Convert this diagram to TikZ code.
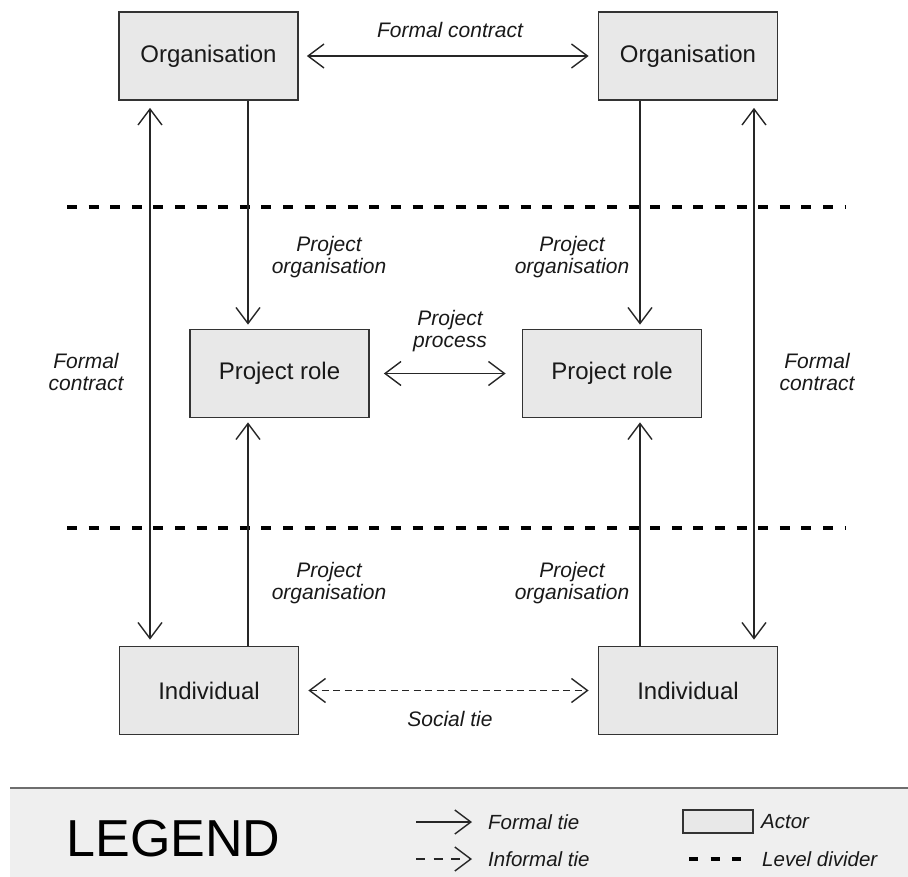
\documentclass[tikz,border=0pt]{standalone}
\usepackage{fontspec}
\setmainfont{Liberation Sans}
\usetikzlibrary{arrows.meta}

\definecolor{linegray}{HTML}{262626}
\definecolor{boxfill}{HTML}{E8E8E8}
\definecolor{boxline}{HTML}{333333}
\definecolor{legendfill}{HTML}{EFEFEF}
\definecolor{legendline}{HTML}{6E6E6E}

\tikzset{
  actor/.style={draw=boxline, line width=1.7pt, fill=boxfill,
    minimum width=179pt, minimum height=88pt, inner sep=0pt,
    font=\fontsize{24}{26}\selectfont, text=black!90},
  lbl/.style={font=\fontsize{21}{22}\selectfont\itshape, align=center,
    inner sep=0pt, text=black!90},
  legtext/.style={font=\fontsize{20.5}{22}\selectfont\itshape, anchor=west,
    inner sep=0pt, text=black!90},
  barb/.tip={Straight Barb[length=16pt,width=24pt,line width=1.4pt]},
  tie/.style={draw=linegray, line width=1.4pt, -barb},
  bitie/.style={draw=linegray, line width=1.4pt, barb-barb},
  softtie/.style={draw=linegray, line width=1.3pt, barb-barb,
    dash pattern=on 7pt off 4.5pt},
  divider/.style={draw=black, line width=3.5pt, dash pattern=on 10pt off 11.6pt},
}

\begin{document}
\begin{tikzpicture}[x=1pt, y=-1pt]
  \useasboundingbox (0,0) rectangle (908,877);

  % level dividers
  \coordinate (d1a) at (67,207);  \coordinate (d1b) at (845,207);
  \coordinate (d2a) at (67,528);  \coordinate (d2b) at (845,528);
  \draw[divider] (d1a) -- (d1b);
  \draw[divider] (d2a) -- (d2b);

  % actors
  \node[actor] (orgL)  at (208.5,56)   {Organisation};
  \node[actor] (orgR)  at (688,56)     {Organisation};
  \node[actor] (roleL) at (279.5,373.5){Project role};
  \node[actor] (roleR) at (612,373.5)  {Project role};
  \node[actor] (indL)  at (209,690.5)  {Individual};
  \node[actor] (indR)  at (688,690.5)  {Individual};

  % guide columns for the vertical ties
  \coordinate (colFL) at (150,0);
  \coordinate (colPL) at (248,0);
  \coordinate (colPR) at (640,0);
  \coordinate (colFR) at (754,0);

  % formal contract between organisations
  \draw[bitie, shorten <=8pt, shorten >=9pt] (orgL) -- (orgR);
  \node[lbl] (fcTop) at (450,30) {Formal contract};

  % formal contracts between organisation and individual
  \draw[bitie, shorten <=7pt, shorten >=6pt] (orgL.south -| colFL) -- (indL.north -| colFL);
  \draw[bitie, shorten <=7pt, shorten >=6pt] (orgR.south -| colFR) -- (indR.north -| colFR);
  \node[lbl] (fcL) at (86,372) {Formal\\contract};
  \node[lbl] (fcR) at (817,372) {Formal\\contract};

  % project organisation ties
  \draw[tie, shorten >=4pt] (orgL.south -| colPL) -- (roleL.north -| colPL);
  \draw[tie, shorten >=4pt] (orgR.south -| colPR) -- (roleR.north -| colPR);
  \draw[tie, shorten >=4pt] (indL.north -| colPL) -- (roleL.south -| colPL);
  \draw[tie, shorten >=4pt] (indR.north -| colPR) -- (roleR.south -| colPR);
  \node[lbl] (poUL) at (329,257) {Project\\organisation};
  \node[lbl] (poUR) at (572,257) {Project\\organisation};
  \node[lbl] (poLL) at (329,583) {Project\\organisation};
  \node[lbl] (poLR) at (572,583) {Project\\organisation};

  % project process between roles
  \draw[bitie, shorten <=14pt, shorten >=16pt] (roleL) -- (roleR);
  \node[lbl] (pp) at (450,331) {Project\\process};

  % social tie between individuals
  \draw[softtie, shorten <=9pt, shorten >=9pt] (indL) -- (indR);
  \node[lbl] (st) at (450,719) {Social tie};

  % legend panel
  \fill[legendfill] (10,788) rectangle (908,877);
  \coordinate (legTL) at (10,788); \coordinate (legTR) at (908,788);
  \draw[legendline, line width=1.4pt] (legTL) -- (legTR);
  \node[inner sep=0pt, font=\fontsize{52}{54}\selectfont, text=black] (legend) at (173.5,839) {LEGEND};

  \coordinate (lfA) at (416,822); \coordinate (lfB) at (472,822);
  \draw[tie] (lfA) -- (lfB);
  \node[legtext] (lgFormal) at (488,822) {Formal tie};

  \coordinate (liA) at (416,859); \coordinate (liB) at (472,859);
  \draw[tie, dash pattern=on 9pt off 8.5pt] (liA) -- (liB);
  \node[legtext] (lgInformal) at (488,859) {Informal tie};

  \node[draw=boxline, line width=1.4pt, fill=boxfill, minimum width=70pt,
        minimum height=23pt, inner sep=0pt] (lgBox) at (718,821.5) {};
  \node[legtext] (lgActor) at (761,822) {Actor};

  \coordinate (ldA) at (689,859); \coordinate (ldB) at (741,859);
  \draw[divider, dash pattern=on 9pt off 12.5pt] (ldA) -- (ldB);
  \node[legtext] (lgDivider) at (762,859) {Level divider};
\end{tikzpicture}
\end{document}
